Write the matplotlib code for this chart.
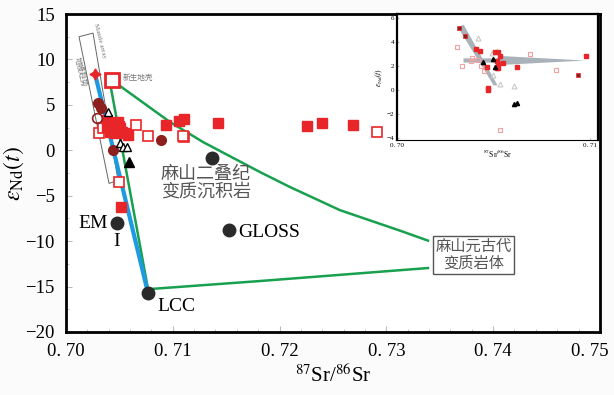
import numpy as np
import matplotlib
matplotlib.use('Agg')
import matplotlib.pyplot as plt
from matplotlib.ticker import MultipleLocator, FuncFormatter

plt.rcParams['font.family'] = ['Liberation Serif', 'DejaVu Serif']
plt.rcParams['mathtext.fontset'] = 'stix'
CJK = ['Noto Sans CJK SC', 'DejaVu Sans']

# ---- donnees du graphique principal ----
red_fill_x = [0.70384, 0.70431, 0.70487, 0.70506, 0.70459, 0.70412, 0.70581, 0.70524,
              0.70384, 0.70552, 0.70440, 0.70470, 0.70500, 0.70936, 0.71058, 0.71105,
              0.71423, 0.72257, 0.72397, 0.72687, 0.70515]
red_fill_y = [3.33, 2.78, 3.11, 2.45, 1.90, 2.01, 1.68, 2.01,
              2.56, 1.90, 3.00, 2.20, 2.70, 2.78, 3.22, 3.44,
              3.00, 2.67, 3.00, 2.78, -6.20]
red_open_x = [0.70309, 0.70346, 0.70655, 0.70768, 0.71105, 0.71096, 0.72912, 0.70496]
red_open_y = [1.90, 2.45, 2.78, 1.57, 1.46, 1.57, 2.00, -3.49]
darkred_x = [0.70300, 0.70328, 0.70440, 0.70889]
darkred_y = [5.21, 4.66, 0.03, 1.13]
darkred_open_x = [0.70290]
darkred_open_y = [3.55]
tri_open_x = [0.70393, 0.70506, 0.70534, 0.70571]
tri_open_y = [4.22, 0.80, 0.36, 0.36]
tri_fill_x = [0.70590]
tri_fill_y = [-1.29]
sed_x = [0.71367]
sed_y = [-0.85]

end_names = ['EM I', 'GLOSS', 'LCC']
end_x = [0.70478, 0.71526, 0.70768]
end_y = [-8.0, -8.8, -15.7]

star_x, star_y = 0.70272, 8.40
juv_x, juv_y = 0.70431, 7.74

# enveloppe du socle proterozoique (vert)
green_upper_x = [0.70421, 0.70506, 0.70974, 0.71283, 0.71816, 0.72097, 0.72566, 0.73127, 0.73390]
green_upper_y = [7.20, 7.08, 3.11, 0.91, -2.39, -4.04, -6.59, -8.84, -9.94]
green_left_x = [0.70421, 0.70768]
green_left_y = [6.86, -15.27]
green_lower_x = [0.70787, 0.71816, 0.73390]
green_lower_y = [-15.27, -14.39, -12.96]

# bande du manteau (polygone)
mantle_x = [0.70122, 0.70253, 0.70487, 0.70403]
mantle_y = [12.5, 12.9, -3.30, -3.65]

# ---- donnees de l'encart ----
in_dred_x = [0.70320, 0.70352, 0.70934]
in_dred_y = [5.17, 4.46, 1.18]
in_red_x = [0.70409, 0.70430, 0.70508, 0.70520, 0.70534, 0.70465, 0.70517, 0.70520,
            0.70546, 0.70620, 0.70976, 0.70473, 0.70473, 0.70525, 0.70517]
in_red_y = [3.36, 3.21, 3.15, 3.15, 2.83, 1.89, 2.36, 2.10,
            2.20, 1.89, 2.83, 0.13, 0.00, 1.83, 1.76]
in_tri_x = [0.70444, 0.70499, 0.70508, 0.70606, 0.70623]
in_tri_y = [2.31, 2.57, 1.90, -1.20, -1.10]
in_otri_x = [0.70421, 0.70491, 0.70499, 0.70534, 0.70606]
in_otri_y = [4.31, 3.01, 1.18, 0.47, 0.34]
in_pale_x = [0.70311, 0.70335, 0.70390, 0.70421, 0.70434, 0.70451, 0.70534, 0.70689,
             0.70822, 0.70383]
in_pale_y = [3.54, 1.97, 2.62, 2.49, 1.97, 1.52, -3.36, 2.94, 1.63, 2.42]

RED = '#E8262A'
DRED = '#8E1F1F'
BLUE = '#1E9BE0'
GREEN = '#17A14E'

fig = plt.figure(figsize=(6.14, 3.95), dpi=100)
fig.patch.set_facecolor('#FBFBFB')
ax = fig.add_axes([0.1075, 0.1595, 0.8695, 0.805])
ax.set_facecolor('white')

ax.fill(mantle_x, mantle_y, facecolor='none', edgecolor='#666666', lw=0.7)
ax.text(0.70312, 12.0, 'Mantle array', rotation=-76, fontsize=5, color='#777777',
        ha='center', va='center')
ax.text(0.70131, 8.6, '地幔趋势', rotation=-76, fontsize=5.5, color='#777777',
        ha='center', va='center', family=CJK)

ax.plot(green_upper_x, green_upper_y, color=GREEN, lw=1.8, zorder=2)
ax.plot(green_left_x, green_left_y, color=GREEN, lw=1.8, zorder=2)
ax.plot(green_lower_x, green_lower_y, color=GREEN, lw=1.8, zorder=2)
ax.plot([star_x, end_x[2]], [star_y, end_y[2]], color=BLUE, lw=3, zorder=2)

ax.plot(red_open_x, red_open_y, 's', ms=6.5, mfc='white', mec=RED, mew=1.2, zorder=3)
ax.plot(red_fill_x, red_fill_y, 's', ms=7.5, color=RED, zorder=4)
ax.plot(darkred_x, darkred_y, 'o', ms=7, color=DRED, zorder=4)
ax.plot(darkred_open_x, darkred_open_y, 'o', ms=7, mfc='none', mec=DRED, mew=1.2, zorder=4)
ax.plot(tri_open_x, tri_open_y, '^', ms=6, mfc='white', mec='black', mew=1, zorder=5)
ax.plot(tri_fill_x, tri_fill_y, '^', ms=7, color='black', zorder=5)
ax.plot(sed_x, sed_y, 'o', ms=9, color='#2A2A2A', zorder=5)
ax.plot(end_x, end_y, 'o', ms=9, color='#2A2A2A', zorder=5)
ax.plot(star_x, star_y, marker=(4, 1, 0), ms=8, color=RED, zorder=5)
ax.plot(juv_x, juv_y, 's', ms=10, mfc='white', mec=RED, mew=2, zorder=5)

ax.text(juv_x + 0.0010, juv_y + 0.25, '新生地壳', fontsize=5.5, color='#777777',
        family=CJK, va='center')
ax.text(end_x[0] - 0.0009, end_y[0] - 0.1, 'EM', fontsize=14, ha='right', va='center')
ax.text(end_x[0], end_y[0] - 1.1, 'I', fontsize=14, ha='center', va='top')
ax.text(end_x[1] + 0.0009, end_y[1] - 0.3, 'GLOSS', fontsize=14, ha='left', va='center')
ax.text(end_x[2] + 0.0009, end_y[2] - 1.5, 'LCC', fontsize=14, ha='left', va='center')
ax.text(0.7131, -3.6, '麻山二叠纪\n变质沉积岩', fontsize=13, color='#555555', family=CJK,
        ha='center', va='center', linespacing=0.95)
ax.text(0.7382, -11.5, '麻山元古代\n变质岩体', fontsize=11, color='#555555', family=CJK,
        ha='center', va='center', linespacing=0.95,
        bbox=dict(boxstyle='square,pad=0.15', fc='white', ec='#555555', lw=1))

ax.set_xlim(0.70, 0.75)
ax.set_ylim(-20, 15)
ax.xaxis.set_major_locator(MultipleLocator(0.01))
ax.xaxis.set_minor_locator(MultipleLocator(0.002))
ax.yaxis.set_major_locator(MultipleLocator(5))
ax.yaxis.set_minor_locator(MultipleLocator(2.5))
# le label 0. 75 deborderait a droite : il est ecrit a part, decale vers la gauche
ax.xaxis.set_major_formatter(FuncFormatter(
    lambda v, p: '' if round(v * 100) >= 75 else '0. %d' % round(v * 100)))
ax.yaxis.set_major_formatter(FuncFormatter(lambda v, p: '%d' % v if v >= 0 else '\u2212%d' % -v))
ax.tick_params(which='both', direction='in', color='#BBBBBB', labelsize=13.5)
ax.tick_params(which='major', length=4, pad=8)
ax.tick_params(which='minor', length=2)
ax.annotate('0. 75', xy=(0.75, 0), xycoords=ax.get_xaxis_transform(),
            xytext=(-7, -8), textcoords='offset points', ha='center', va='top',
            fontsize=13.5)
for s in ax.spines.values():
    s.set_linewidth(2)
ax.set_xlabel(r'$^{87}$Sr/$^{86}$Sr', fontsize=15, labelpad=3)
ax.set_ylabel(r'$\varepsilon_{\mathrm{Nd}}(t)$', fontsize=17, labelpad=0)

# ---- encart ----
ins = fig.add_axes([0.6466, 0.6456, 0.3274, 0.319])
ins.set_facecolor('white')
# bande diagonale et fleche horizontale (grises)
ins.fill([0.70315, 0.70345, 0.70520, 0.70500], [5.2, 5.4, 0.35, 0.35],
         color='#A9B1B9', lw=0, zorder=1)
ins.fill([0.70344, 0.70518, 0.70535, 0.70974, 0.70535, 0.70518, 0.70344],
         [2.25, 2.25, 2.05, 2.42, 2.80, 2.60, 2.60],
         color='#A9B1B9', lw=0, zorder=1)
ins.plot(in_pale_x, in_pale_y, 's', ms=3.5, mfc='none', mec='#F2A0A0', mew=0.8, zorder=2)
ins.plot(in_otri_x, in_otri_y, '^', ms=3.5, mfc='none', mec='#C8C8C8', mew=0.8, zorder=2)
ins.plot(in_red_x, in_red_y, 's', ms=3.5, color=RED, zorder=3)
ins.plot(in_dred_x, in_dred_y, 's', ms=3.2, mfc=DRED, mec=RED, mew=0.5, zorder=3)
ins.plot(in_tri_x, in_tri_y, '^', ms=3, color='black', zorder=4)
ins.set_xlim(0.70, 0.7104)
ins.set_ylim(-4.2, 6.3)
ins.set_xticks([0.70, 0.71])
ins.set_xticklabels(['0. 70', '0. 71'])
ins.set_yticks([-4, -2, 0, 2, 4, 6])
ins.tick_params(direction='in', length=1.5, labelsize=5, color='#BBBBBB', pad=2)
for s in ins.spines.values():
    s.set_linewidth(1.6)
ins.spines['bottom'].set_linewidth(0.8)
ins.set_xlabel(r'$^{87}$Sr/$^{86}$Sr', fontsize=5.5, labelpad=0)
ins.set_ylabel(r'$\varepsilon_{\mathrm{Nd}}(t)$', fontsize=5.5, labelpad=1)

fig.savefig('out.png', dpi=100, facecolor=fig.get_facecolor())
